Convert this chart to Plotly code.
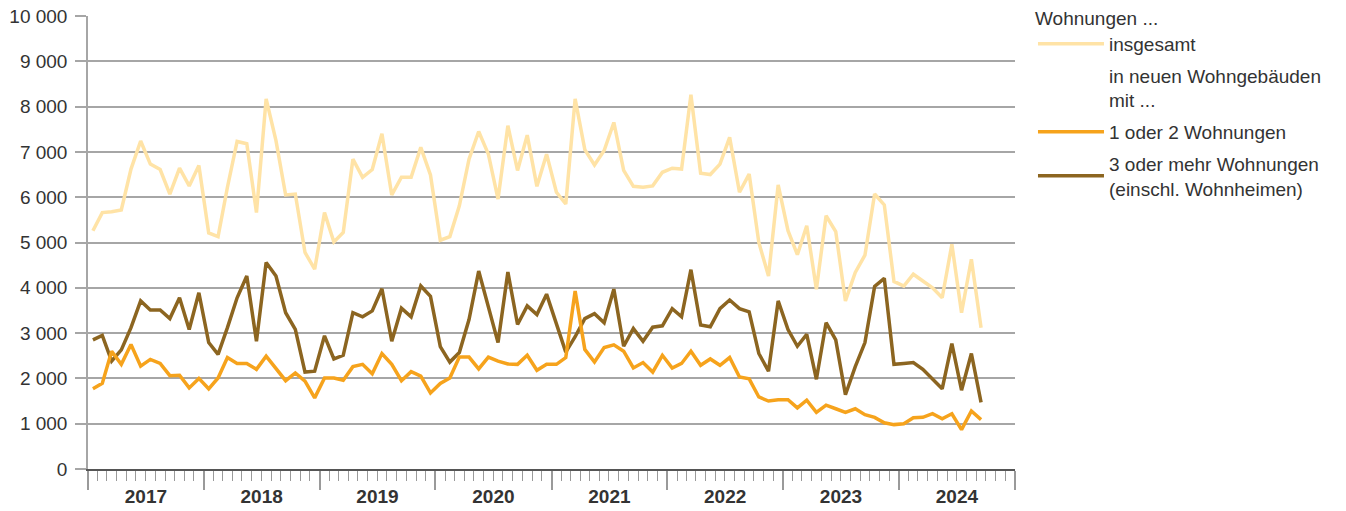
import pandas as pd
import plotly.graph_objects as go

start_month = "2017-01-01"
n_months = 93

insgesamt = [5260, 5660, 5680, 5720, 6620, 7240, 6730, 6610, 6070, 6640, 6250, 6700,
             5210, 5130, 6220, 7230, 7180, 5660, 8170, 7250, 6050, 6070, 4780, 4410,
             5660, 5010, 5220, 6840, 6440, 6610, 7400, 6050, 6440, 6440, 7100, 6490,
             5050, 5130, 5810, 6840, 7450, 6950, 5960, 7580, 6590, 7370, 6240, 6950,
             6110, 5850, 8170, 7050, 6710, 7030, 7650, 6590, 6240, 6220, 6250, 6550,
             6640, 6620, 8260, 6530, 6500, 6730, 7320, 6110, 6510, 5000, 4260, 6270,
             5260, 4730, 5370, 3970, 5590, 5240, 3710, 4340, 4720, 6070, 5830, 4140,
             4040, 4300, 4150, 4000, 3780, 4960, 3450, 4630, 3120]

ein_zwei = [1770, 1890, 2600, 2310, 2750, 2270, 2420, 2330, 2060, 2070, 1790, 2000,
            1770, 2010, 2460, 2330, 2330, 2200, 2490, 2210, 1950, 2120, 1940, 1570,
            2010, 2010, 1960, 2260, 2310, 2100, 2550, 2310, 1950, 2150, 2050, 1680,
            1890, 2010, 2470, 2470, 2210, 2470, 2380, 2320, 2310, 2510, 2180, 2310,
            2310, 2460, 3930, 2640, 2360, 2680, 2740, 2600, 2230, 2350, 2140, 2510,
            2230, 2330, 2600, 2290, 2430, 2290, 2460, 2030, 1990, 1590, 1500, 1530,
            1530, 1350, 1520, 1250, 1410, 1330, 1250, 1330, 1200, 1140, 1020, 980,
            1000, 1130, 1140, 1220, 1110, 1220, 870, 1280, 1090]

drei_mehr = [2850, 2950, 2380, 2630, 3120, 3710, 3510, 3510, 3320, 3780, 3080, 3890,
             2790, 2530, 3120, 3780, 4260, 2820, 4560, 4260, 3450, 3080, 2140, 2160,
             2940, 2430, 2510, 3450, 3360, 3490, 3980, 2820, 3550, 3360, 4040, 3810,
             2700, 2360, 2570, 3300, 4370, 3600, 2790, 4350, 3190, 3600, 3410, 3860,
             3190, 2580, 2920, 3320, 3430, 3230, 3970, 2710, 3100, 2820, 3130, 3160,
             3540, 3360, 4400, 3180, 3140, 3540, 3730, 3540, 3470, 2550, 2160, 3710,
             3080, 2710, 2970, 1980, 3230, 2850, 1640, 2260, 2790, 4030, 4210, 2310,
             2330, 2350, 2200, 1990, 1770, 2770, 1740, 2550, 1470]

names = ["insgesamt", "in neuen Wohngebäuden<br>mit ...", "1 oder 2 Wohnungen",
         "3 oder mehr Wohnungen<br>(einschl. Wohnheimen)"]
legend_title = "Wohnungen ..."

starts = pd.date_range(start_month, periods=n_months + 1, freq="MS")
x = [starts[i] + (starts[i + 1] - starts[i]) / 2 for i in range(n_months)]

c_light = "#FFE3A6"
c_orange = "#F6A31C"
c_dark = "#8C6520"
font = "Liberation Sans, Arial, sans-serif"
lw = 3.5
x_range = ["2017-01-01", "2025-01-01"]

fig = go.Figure()
fig.add_trace(go.Scatter(x=x, y=insgesamt, name=names[0], mode="lines",
                         line=dict(color=c_light, width=lw), legendrank=1, legendgroup="g1"))
fig.add_trace(go.Scatter(x=[None], y=[None], name=names[1], mode="lines",
                         line=dict(color="rgba(0,0,0,0)", width=0), legendrank=2, legendgroup="g2"))
fig.add_trace(go.Scatter(x=x, y=drei_mehr, name=names[3], mode="lines",
                         line=dict(color=c_dark, width=lw), legendrank=4, legendgroup="g4"))
fig.add_trace(go.Scatter(x=x, y=ein_zwei, name=names[2], mode="lines",
                         line=dict(color=c_orange, width=lw), legendrank=3, legendgroup="g3"))
# carrier for the year-label axis
fig.add_trace(go.Scatter(x=[None], y=[None], xaxis="x2", showlegend=False, hoverinfo="skip"))

fig.update_layout(
    width=1346, height=511,
    margin=dict(l=88, r=331, t=16, b=42, autoexpand=False),
    paper_bgcolor="white", plot_bgcolor="white",
    font=dict(family=font, size=19, color="#333333"),
    separators=", ",
    showlegend=True,
    legend=dict(
        title=dict(text=legend_title, font=dict(size=19)),
        x=1.0194, xanchor="left", y=1.035, yanchor="top",
        traceorder="grouped", tracegroupgap=4,
        font=dict(size=19), bgcolor="rgba(0,0,0,0)",
        itemwidth=66,
    ),
    xaxis=dict(
        type="date", automargin=False, range=x_range,
        tick0="2017-01-01", dtick="M12", showticklabels=False,
        ticks="outside", ticklen=19, tickwidth=1.5, tickcolor="#9a9a9a",
        minor=dict(dtick="M1", ticks="outside", ticklen=10, tickwidth=1,
                   tickcolor="#9a9a9a", showgrid=False),
        showline=True, linecolor="#555555", linewidth=2,
        showgrid=False, zeroline=False,
    ),
    xaxis2=dict(
        type="date", automargin=False, range=x_range, overlaying="x", side="bottom",
        tick0="2017-01-01", dtick="M12", tickformat="%Y", ticklabelmode="period",
        ticks="outside", ticklen=10, tickcolor="rgba(0,0,0,0)",
        tickfont=dict(size=19, weight="bold", color="#333333"),
        showline=False, showgrid=False, zeroline=False,
    ),
)

fig.update_yaxes(
    automargin=False,
    range=[0, 10000], dtick=1000, tickformat=",d",
    ticks="outside", ticklen=11, tickwidth=1.5, tickcolor="#a6a6a6",
    ticklabelstandoff=4,
    tickfont=dict(size=19, color="#333333"),
    showgrid=True, gridcolor="#a6a6a6", gridwidth=1.5,
    showline=True, linecolor="#a6a6a6", linewidth=1.5,
    zeroline=False,
)

fig.write_html("out.html", config={"displayModeBar": False},
               post_script="document.body.style.margin='0';document.body.style.padding='0';")
